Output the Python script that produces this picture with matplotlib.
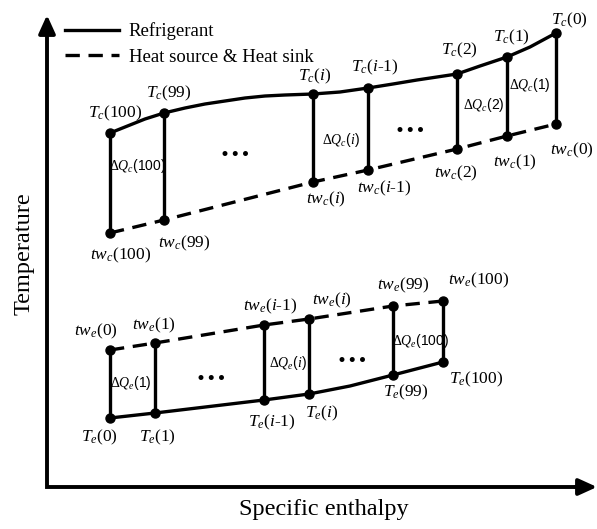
import matplotlib
matplotlib.use("Agg")
import matplotlib.pyplot as plt

plt.rcParams['font.family'] = ['Liberation Serif', 'DejaVu Serif']
plt.rcParams['mathtext.fontset'] = 'custom'
plt.rcParams['mathtext.rm'] = 'Liberation Serif'
plt.rcParams['mathtext.it'] = 'Liberation Serif:italic'

# condenser side: refrigerant (T_c) and heat sink water (tw_c)
c_idx = ['100', '99', 'i', 'i-1', '2', '1', '0']
c_h = [110, 164, 313, 368, 457, 507, 556]
c_T = [396, 416, 435, 441, 455, 472, 496]
c_tw = [296, 309, 347, 359, 380, 393, 405]
# refrigerant curve traced between the nodes
c_curve_h = [110, 125, 145, 164, 185, 205, 225, 245, 265, 285, 313,
             340, 368, 393, 417, 437, 457, 480, 507, 530, 556]
c_curve_T = [396, 402, 410, 416, 421, 425, 428, 431, 433, 434, 435,
             437, 441, 445, 449, 452, 455, 463, 472, 482, 496]
c_dq = ['100', 'i', '2', '1']

# evaporator side: refrigerant (T_e) and heat source water (tw_e)
e_idx = ['0', '1', 'i-1', 'i', '99', '100']
e_h = [110, 155, 264, 309, 393, 443]
e_T = [111, 116, 129, 135, 154, 167]
e_tw = [179, 186, 204, 210, 223, 228]
e_curve_h = [110, 155, 264, 309, 350, 393, 443]
e_curve_T = [111, 116, 129, 135, 143, 154, 167]
e_dq = ['1', 'i', '100']

LW = 2.4
MS = 6.5
DASH = (0, (4.3, 2.6))


def idx_text(s):
    return s.replace('i', '$i$')


fig = plt.figure(figsize=(5.97, 5.29), dpi=100)
ax = fig.add_axes([0, 0, 1, 1])
ax.set_xlim(0, 597)
ax.set_ylim(0, 529)
ax.axis('off')

# axes drawn as arrows
ax.plot([47, 47, 585], [505, 42, 42], color='k', lw=2.8, solid_joinstyle='miter')
ax.annotate('', xy=(47, 514), xytext=(47, 495),
            arrowprops=dict(arrowstyle='-|>,head_length=0.55,head_width=0.25',
                            color='k', lw=2.8, mutation_scale=20, shrinkA=0, shrinkB=0))
ax.annotate('', xy=(597, 42), xytext=(575, 42),
            arrowprops=dict(arrowstyle='-|>,head_length=0.55,head_width=0.25',
                            color='k', lw=2.8, mutation_scale=20, shrinkA=0, shrinkB=0))
ax.text(24, 275, 'Temperature', rotation=90, ha='center', va='center', fontsize=17.5)
ax.text(324, 19, 'Specific enthalpy', ha='center', va='center', fontsize=17.5)

# condenser
ax.plot(c_curve_h, c_curve_T, color='k', lw=LW, label='Refrigerant')
ax.plot(c_h, c_tw, color='k', lw=LW, ls=DASH, label='Heat source & Heat sink')
for h, t, tw in zip(c_h, c_T, c_tw):
    ax.plot([h, h], [tw, t], color='k', lw=LW)
ax.plot(c_h, c_T, 'o', color='k', ms=MS)
ax.plot(c_h, c_tw, 'o', color='k', ms=MS)

# evaporator
ax.plot(e_curve_h, e_curve_T, color='k', lw=LW)
ax.plot(e_h, e_tw, color='k', lw=LW, ls=DASH)
for h, t, tw in zip(e_h, e_T, e_tw):
    ax.plot([h, h], [t, tw], color='k', lw=LW)
ax.plot(e_h, e_T, 'o', color='k', ms=MS)
ax.plot(e_h, e_tw, 'o', color='k', ms=MS)

# label offsets in pixels (dx, dy)
c_T_off = [(5, 20), (5, 20), (2, 18), (7, 21), (2, 24), (4, 20), (13, 13)]
c_tw_off = [(11, -22), (20, -23), (13, -17), (16, -18), (-1, -24), (8, -26), (16, -26)]
e_tw_off = [(-14, 19), (-1, 18), (6, 19), (23, 19), (10, 21), (36, 21)]
e_T_off = [(-11, -19), (2, -24), (8, -22), (13, -19), (13, -17), (33, -17)]

for k, h, t, tw, o1, o2 in zip(c_idx, c_h, c_T, c_tw, c_T_off, c_tw_off):
    ax.annotate('$T_c$(' + idx_text(k) + ')', (h, t), xytext=o1,
                textcoords='offset pixels', ha='center', va='center', fontsize=12.5)
    ax.annotate('$tw_c$(' + idx_text(k) + ')', (h, tw), xytext=o2,
                textcoords='offset pixels', ha='center', va='center', fontsize=12.5)
for k, h, t, tw, o1, o2 in zip(e_idx, e_h, e_T, e_tw, e_T_off, e_tw_off):
    ax.annotate('$T_e$(' + idx_text(k) + ')', (h, t), xytext=o1,
                textcoords='offset pixels', ha='center', va='center', fontsize=12.5)
    ax.annotate('$tw_e$(' + idx_text(k) + ')', (h, tw), xytext=o2,
                textcoords='offset pixels', ha='center', va='center', fontsize=12.5)

# heat flow labels, placed by the left line of each slice
c_dq_line = [0, 2, 4, 5]
c_dq_off = [(28, 17), (28, -2), (27, 7), (23, 12)]
for k, j, o in zip(c_dq, c_dq_line, c_dq_off):
    ax.annotate(r'$\mathit{ΔQ}_c$(' + idx_text(k) + ')', (c_h[j], (c_T[j] + c_tw[j]) / 2),
                xytext=o, textcoords='offset pixels', ha='center', va='center',
                fontsize=10, family=['Liberation Sans'])
e_dq_line = [0, 2, 4]
e_dq_off = [(21, 1), (24, -1), (28, 0)]
for k, j, o in zip(e_dq, e_dq_line, e_dq_off):
    ax.annotate(r'$\mathit{ΔQ}_e$(' + idx_text(k) + ')', (e_h[j], (e_T[j] + e_tw[j]) / 2),
                xytext=o, textcoords='offset pixels', ha='center', va='center',
                fontsize=10, family=['Liberation Sans'])

# ellipses for the omitted slices
for x, y in [(235, 380), (410, 405), (211, 156), (352, 175)]:
    ax.text(x, y, '\u2026', ha='center', va='center', fontsize=22, fontweight='bold')

ax.legend(loc='upper left', bbox_to_anchor=(0.109, 0.958), frameon=False,
          fontsize=13.5, handlelength=2.9, handletextpad=0.5, labelspacing=0.45,
          borderpad=0, borderaxespad=0)

fig.savefig('out.png', dpi=100)
